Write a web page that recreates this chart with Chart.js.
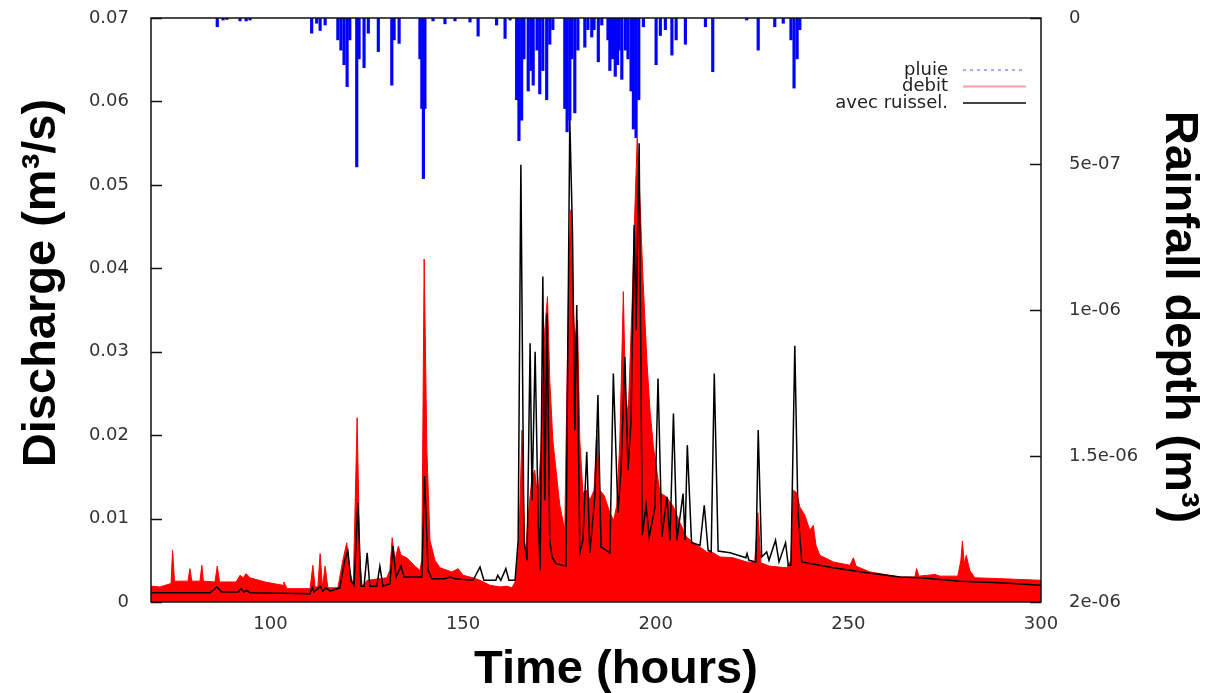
<!DOCTYPE html>
<html>
<head>
<meta charset="utf-8">
<title>Discharge and rainfall</title>
<script src="https://cdn.jsdelivr.net/npm/chart.js@4.4.1/dist/chart.umd.min.js"></script>
<style>
  html, body { margin: 0; padding: 0; background: #fff; }
  #wrap { position: relative; width: 1208px; height: 693px; }
</style>
</head>
<body>
<div id="wrap"><canvas id="hydroChart"></canvas></div>
<script>
// values (time in hours)
const debitTime = [69, 71.3, 73.4, 74.2, 74.6, 75.1, 78.6, 79.1, 79.6, 81.7,
  82.2, 82.6, 85.6, 86.2, 86.8, 91.1, 92.1, 92.9, 93.7, 94.7,
  98.6, 103.3, 103.5, 104.3, 110.3, 111.0, 111.6, 112.3, 112.9, 113.5,
  114.2, 114.9, 117.5, 118.8, 119.8, 120.6, 121.5, 122.5, 123.2, 123.8,
  125.1, 130.2, 131.0, 131.6, 132.3, 133.2, 133.9, 135.4, 137.5, 138.8,
  139.3, 139.9, 140.6, 141.4, 142.7, 144.0, 147.1, 148.7, 150.0, 152.6,
  154.4, 157.0, 159.6, 161.4, 162.7, 163.7, 164.5, 165.3, 166.1, 166.8,
  167.8, 168.6, 169.4, 170.2, 170.7, 171.2, 171.9, 172.5, 173.3, 174.4,
  175.1, 176.0, 176.4, 176.9, 177.5, 178.0, 178.5, 179.0, 179.7, 180.3,
  181.1, 182.1, 182.9, 184.0, 184.7, 185.5, 186.6, 188.1, 189.1, 189.9,
  190.7, 191.6, 192.3, 193.0, 193.9, 194.5, 195.2, 195.9, 196.7, 197.7,
  198.5, 199.4, 201.1, 202.8, 204.6, 206.3, 208.0, 209.8, 211.5, 213.2,
  214.9, 216.7, 220.1, 223.6, 225.7, 226.5, 227.3, 229.6, 234.0, 235.1,
  235.7, 236.6, 237.4, 238.7, 240.0, 240.9, 241.6, 242.6, 246.1, 250.4,
  251.3, 252.0, 255.6, 263.4, 267.3, 267.7, 268.3, 272.5, 273.8, 278.4,
  279.2, 279.6, 280.1, 280.6, 281.5, 282.8, 289.3, 300];
const debit = [0.0019, 0.0018, 0.0021, 0.0022, 0.0062, 0.0025, 0.0025, 0.0040, 0.0025, 0.0025,
  0.0044, 0.0025, 0.0024, 0.0043, 0.0024, 0.0024, 0.0032, 0.0029, 0.0034, 0.0029,
  0.0024, 0.0020, 0.0024, 0.0016, 0.0016, 0.0044, 0.0018, 0.0018, 0.0058, 0.0018,
  0.0043, 0.0017, 0.0017, 0.0050, 0.0071, 0.0038, 0.0019, 0.0221, 0.0050, 0.0019,
  0.0026, 0.0029, 0.0038, 0.0077, 0.0050, 0.0067, 0.0056, 0.0053, 0.0043, 0.0038,
  0.0050, 0.0411, 0.0182, 0.0074, 0.0050, 0.0041, 0.0036, 0.0040, 0.0032, 0.0029,
  0.0026, 0.0020, 0.0018, 0.0019, 0.0017, 0.0026, 0.0074, 0.0206, 0.0050, 0.0098,
  0.0146, 0.0158, 0.0122, 0.0182, 0.0266, 0.0326, 0.0366, 0.0266, 0.0194, 0.0146,
  0.0116, 0.0095, 0.0086, 0.0242, 0.0410, 0.0470, 0.0362, 0.0314, 0.0338, 0.0194,
  0.0131, 0.0134, 0.0122, 0.0134, 0.0206, 0.0134, 0.0128, 0.0107, 0.0098, 0.0116,
  0.0194, 0.0372, 0.0218, 0.0242, 0.0362, 0.0458, 0.0556, 0.0482, 0.0386, 0.0290,
  0.0230, 0.0186, 0.0131, 0.0126, 0.0114, 0.0095, 0.0078, 0.0071, 0.0066, 0.0060,
  0.0059, 0.0054, 0.0053, 0.0048, 0.0047, 0.0107, 0.0047, 0.0043, 0.0041, 0.0050,
  0.0134, 0.0131, 0.0114, 0.0104, 0.0086, 0.0092, 0.0068, 0.0056, 0.0048, 0.0044,
  0.0053, 0.0043, 0.0036, 0.0030, 0.0030, 0.0040, 0.0031, 0.0033, 0.0031, 0.0031,
  0.0050, 0.0073, 0.0045, 0.0056, 0.0038, 0.0029, 0.0028, 0.0026];

const ruisselTime = [69, 84.3, 86.1, 87.4, 91.6, 92.4, 93.1, 93.9, 94.7, 110.3,
  110.8, 111.3, 112.3, 112.9, 113.6, 114.4, 115.5, 118.0, 119.3, 120.1,
  120.9, 121.7, 122.7, 123.5, 124.3, 125.1, 125.8, 127.6, 128.4, 129.2,
  131.0, 131.8, 132.6, 133.9, 134.7, 139.3, 140.0, 140.9, 141.9, 145.3,
  146.6, 147.9, 152.6, 154.4, 155.4, 158.5, 159.0, 159.8, 161.1, 161.9,
  163.5, 164.3, 165.0, 165.8, 166.6, 167.4, 167.9, 168.7, 169.5, 170.0,
  170.7, 171.2, 171.8, 172.5, 173.1, 174.1, 176.7, 177.7, 178.4, 179.0,
  179.5, 180.3, 181.1, 182.1, 182.9, 184.2, 185.0, 185.8, 188.1, 189.0,
  190.2, 191.0, 192.0, 192.8, 193.6, 194.4, 194.9, 195.7, 196.5, 197.5,
  198.3, 199.8, 200.6, 201.6, 202.9, 203.7, 204.6, 205.5, 207.1, 207.6,
  208.2, 209.3, 211.5, 212.6, 213.6, 214.4, 215.2, 216.2, 219.3, 223.4,
  223.7, 224.2, 226.0, 226.6, 227.5, 228.8, 229.4, 231.1, 232.0, 233.7,
  234.4, 235.1, 236.1, 236.9, 237.9, 246.0, 254.8, 263.4, 268.6, 278.9,
  289.3, 300];
const ruissel = [0.0011, 0.0011, 0.0018, 0.0012, 0.0012, 0.0016, 0.0012, 0.0014, 0.0011, 0.0010,
  0.0018, 0.0012, 0.0016, 0.0019, 0.0013, 0.0017, 0.0013, 0.0017, 0.0050, 0.0061,
  0.0026, 0.0020, 0.0119, 0.0019, 0.0019, 0.0059, 0.0019, 0.0019, 0.0043, 0.0019,
  0.0022, 0.0067, 0.0030, 0.0043, 0.0030, 0.0030, 0.0151, 0.0038, 0.0028, 0.0028,
  0.0030, 0.0028, 0.0026, 0.0042, 0.0026, 0.0026, 0.0032, 0.0026, 0.0040, 0.0026,
  0.0026, 0.0074, 0.0524, 0.0074, 0.0050, 0.0310, 0.0122, 0.0300, 0.0098, 0.0038,
  0.0390, 0.0122, 0.0346, 0.0074, 0.0054, 0.0046, 0.0043, 0.0578, 0.0443, 0.0206,
  0.0356, 0.0059, 0.0074, 0.0180, 0.0059, 0.0126, 0.0248, 0.0066, 0.0059, 0.0274,
  0.0107, 0.0158, 0.0294, 0.0158, 0.0218, 0.0452, 0.0326, 0.0550, 0.0080, 0.0116,
  0.0078, 0.0113, 0.0268, 0.0078, 0.0126, 0.0074, 0.0226, 0.0074, 0.0130, 0.0074,
  0.0188, 0.0071, 0.0068, 0.0116, 0.0062, 0.0060, 0.0274, 0.0061, 0.0059, 0.0053,
  0.0058, 0.0050, 0.0048, 0.0206, 0.0054, 0.0060, 0.0050, 0.0074, 0.0048, 0.0071,
  0.0044, 0.0044, 0.0307, 0.0110, 0.0048, 0.0041, 0.0035, 0.0030, 0.0029, 0.0025,
  0.0023, 0.0020];

const rainTime = [86.2, 87.7, 88.7, 92.1, 93.7, 94.7, 110.7, 112.0, 112.9, 114.2,
  117.5, 118.3, 119.1, 119.9, 120.6, 122.4, 123.0, 124.3, 125.4, 128.0,
  131.5, 132.1, 133.4, 138.8, 139.3, 139.7, 140.1, 142.2, 145.3, 147.9,
  151.8, 153.9, 158.7, 160.9, 162.2, 163.9, 164.5, 165.2, 165.8, 166.9,
  167.6, 168.2, 169.2, 169.9, 170.7, 171.7, 172.5, 173.3, 176.4, 177.0,
  177.7, 178.2, 179.0, 179.8, 181.6, 182.4, 183.4, 184.0, 185.1, 186.0,
  187.6, 188.1, 188.8, 189.5, 190.1, 190.5, 191.2, 192.1, 192.8, 193.6,
  194.2, 194.9, 195.6, 196.8, 200.1, 201.2, 202.5, 204.2, 205.3, 207.7,
  212.9, 214.8, 223.6, 226.6, 230.9, 233.1, 235.1, 235.9, 236.7, 237.4];
const rainDepth = [0.30e-7, 0.07e-7, 0.05e-7, 0.10e-7, 0.10e-7, 0.07e-7, 0.52e-7, 0.18e-7, 0.43e-7, 0.24e-7,
  0.75e-7, 1.1e-7, 1.6e-7, 2.35e-7, 0.75e-7, 5.1e-7, 1.4e-7, 1.7e-7, 0.52e-7, 1.15e-7,
  2.3e-7, 0.75e-7, 0.87e-7, 1.4e-7, 3.1e-7, 5.5e-7, 3.1e-7, 0.10e-7, 0.20e-7, 0.10e-7,
  0.14e-7, 0.62e-7, 0.24e-7, 0.70e-7, 0.07e-7, 2.8e-7, 4.2e-7, 3.5e-7, 1.4e-7, 2.5e-7,
  1.8e-7, 2.3e-7, 1.1e-7, 2.6e-7, 1.8e-7, 2.8e-7, 0.90e-7, 0.40e-7, 3.1e-7, 3.9e-7,
  3.5e-7, 1.4e-7, 3.25e-7, 1.1e-7, 1.0e-7, 0.40e-7, 0.65e-7, 0.40e-7, 1.5e-7, 0.24e-7,
  0.75e-7, 1.8e-7, 1.4e-7, 2.0e-7, 1.6e-7, 1.1e-7, 2.1e-7, 1.1e-7, 1.4e-7, 2.5e-7,
  3.8e-7, 4.1e-7, 2.8e-7, 0.30e-7, 1.6e-7, 0.60e-7, 0.40e-7, 1.27e-7, 0.75e-7, 0.90e-7,
  0.30e-7, 1.84e-7, 0.07e-7, 1.1e-7, 0.30e-7, 0.18e-7, 0.75e-7, 2.4e-7, 1.4e-7, 0.40e-7];

const timeTicks = [100, 150, 200, 250, 300];
const dischargeTicks = [0, 0.01, 0.02, 0.03, 0.04, 0.05, 0.06, 0.07];
const dischargeLabels = ['0', '0.01', '0.02', '0.03', '0.04', '0.05', '0.06', '0.07'];
const rainTicks = [0, 5e-7, 1e-6, 1.5e-6, 2e-6];
const rainLabels = ['0', '5e-07', '1e-06', '1.5e-06', '2e-06'];

const toPoints = (xs, ys) => xs.map((x, i) => ({ x: x, y: ys[i] }));

Chart.defaults.font.family = '"DejaVu Sans", sans-serif';
Chart.defaults.color = '#333';

// frame, inner tick marks, legend and axis titles
const decor = {
  id: 'decor',
  afterDraw(chart) {
    const { ctx, chartArea: a, scales } = chart;
    ctx.save();
    ctx.strokeStyle = '#111';
    ctx.lineWidth = 1.5;
    ctx.beginPath();
    scales.y.ticks.forEach(t => {
      const py = Math.round(scales.y.getPixelForValue(t.value)) + 0.5;
      ctx.moveTo(a.left, py); ctx.lineTo(a.left + 11, py);
    });
    scales.y2.ticks.forEach(t => {
      const py = Math.round(scales.y2.getPixelForValue(t.value)) + 0.5;
      ctx.moveTo(a.right, py); ctx.lineTo(a.right - 11, py);
    });
    ctx.stroke();
    ctx.strokeRect(a.left, a.top, a.right - a.left, a.bottom - a.top);

    // legend (text right aligned, sample on the right)
    const rows = [
      { ds: chart.data.datasets[2], color: '#a9aaf5', dash: [3, 4] },
      { ds: chart.data.datasets[0], color: '#ff9f9f', dash: [] },
      { ds: chart.data.datasets[1], color: '#444', dash: [] }
    ];
    ctx.font = '18px "DejaVu Sans"';
    ctx.fillStyle = '#222';
    ctx.textAlign = 'right';
    ctx.textBaseline = 'middle';
    rows.forEach((r, i) => {
      const y = 70 + i * 16.5;
      ctx.fillText(r.ds.label, 948, y);
      ctx.beginPath();
      ctx.setLineDash(r.dash);
      ctx.strokeStyle = r.color;
      ctx.lineWidth = 2;
      ctx.moveTo(963, y); ctx.lineTo(1026, y);
      ctx.stroke();
    });
    ctx.setLineDash([]);

    // axis titles
    ctx.fillStyle = '#000';
    ctx.font = 'bold 47px "Liberation Sans"';
    ctx.textAlign = 'center';
    ctx.textBaseline = 'alphabetic';
    ctx.fillText('Time (hours)', 616, 683);
    ctx.save();
    ctx.translate(55, 283);
    ctx.rotate(-Math.PI / 2);
    ctx.fillText('Discharge (m³/s)', 0, 0);
    ctx.restore();
    ctx.save();
    ctx.translate(1166, 317);
    ctx.rotate(Math.PI / 2);
    ctx.fillText('Rainfall depth (m³)', 0, 0);
    ctx.restore();
    ctx.restore();
  }
};

const noPad = s => { s.paddingTop = 0; s.paddingBottom = 0; s.paddingLeft = 0; s.paddingRight = 0; };

const ctx = document.getElementById('hydroChart').getContext('2d');
const hydroChart = new Chart(ctx, {
  type: 'line',
  data: {
    datasets: [
      {
        label: 'debit',
        data: toPoints(debitTime, debit),
        borderColor: '#ff0000',
        backgroundColor: '#ff0000',
        borderWidth: 1,
        fill: 'origin',
        pointRadius: 0,
        tension: 0,
        yAxisID: 'y',
        order: 3
      },
      {
        label: 'avec ruissel.',
        data: toPoints(ruisselTime, ruissel),
        borderColor: '#000',
        borderWidth: 1.5,
        fill: false,
        pointRadius: 0,
        tension: 0,
        yAxisID: 'y',
        order: 2
      },
      {
        type: 'bar',
        label: 'pluie',
        data: toPoints(rainTime, rainDepth),
        backgroundColor: '#0000ff',
        barThickness: 2.5,
        yAxisID: 'y2',
        order: 1
      }
    ]
  },
  options: {
    responsive: true,
    maintainAspectRatio: false,
    animation: false,
    devicePixelRatio: 1,
    layout: { padding: { top: 18, left: 0, right: 0, bottom: 0 } },
    plugins: { legend: { display: false }, tooltip: { enabled: false } },
    scales: {
      x: {
        type: 'linear',
        min: 69,
        max: 300,
        offset: false,
        grid: { display: false },
        border: { display: false },
        ticks: { padding: 4, font: { size: 18 }, callback: v => String(v) },
        afterBuildTicks: s => { s.ticks = timeTicks.map(v => ({ value: v })); },
        afterFit: s => { s.height = 91; noPad(s); }
      },
      y: {
        position: 'left',
        min: 0,
        max: 0.07,
        grid: { display: false },
        border: { display: false },
        ticks: { padding: 14, font: { size: 18 }, callback: (v, i) => dischargeLabels[i] },
        afterBuildTicks: s => { s.ticks = dischargeTicks.map(v => ({ value: v })); },
        afterFit: s => { s.width = 151; noPad(s); }
      },
      y2: {
        position: 'right',
        min: 0,
        max: 2e-6,
        reverse: true,
        grid: { display: false },
        border: { display: false },
        ticks: { padding: 20, font: { size: 18 }, callback: (v, i) => rainLabels[i] },
        afterBuildTicks: s => { s.ticks = rainTicks.map(v => ({ value: v })); },
        afterFit: s => { s.width = 167; noPad(s); }
      }
    }
  },
  plugins: [decor]
});
</script>
</body>
</html>
